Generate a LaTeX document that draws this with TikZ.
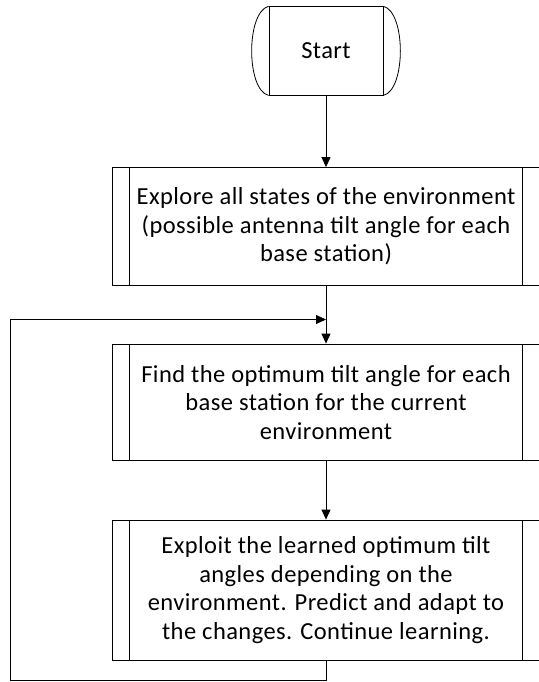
\documentclass[tikz,border=0pt]{standalone}
\usepackage{fontspec}
\setmainfont{Carlito}[LetterSpace=1.8]
\usetikzlibrary{arrows.meta}
\tikzset{
  flow/.style={draw=black, line width=0.8pt},
  arr/.style={flow, -{Triangle[length=10pt,width=9pt]}},
  procbox/.style={draw=black, line width=0.8pt, rectangle, minimum width=428pt,
    inner sep=0pt, align=center, font=\fontsize{24.5}{28.5}\selectfont,
    path picture={
      \draw[line width=0.8pt] ([xshift=17.5pt]path picture bounding box.north west) -- ([xshift=17.5pt]path picture bounding box.south west);
      \draw[line width=0.8pt] ([xshift=-17.5pt]path picture bounding box.north east) -- ([xshift=-17.5pt]path picture bounding box.south east);
    }},
  startbox/.style={draw=black, line width=0.8pt, rectangle, minimum width=114pt,
    minimum height=88.3pt, inner sep=0pt, font=\fontsize{24.5}{28.5}\selectfont}
}
\begin{document}
\begin{tikzpicture}[x=1pt,y=-1pt]
  \useasboundingbox (0,0) rectangle (538,682);

  % terminator
  \node[startbox] (start) at (326,50.85) {Start};
  \draw[flow] (start.north west) .. controls (246,12) and (246,90) .. (start.south west);
  \draw[flow] (start.north east) .. controls (406,12) and (406,90) .. (start.south east);

  % process steps
  \node[procbox, minimum height=118.2pt] (explore) at (326,226.6)
    {Explore all states of the environment\\(possible antenna tilt angle for each\\base station)};
  \node[procbox, minimum height=116.7pt] (find) at (326,402.35)
    {Find the optimum tilt angle for each\\base station for the current\\environment};
  \node[procbox, minimum height=140pt] (exploit) at (326,590)
    {Exploit the learned optimum tilt\\angles depending on the\\environment. Predict and adapt to\\the changes. Continue learning.};

  % connectors
  \coordinate (join) at (326,319.5);
  \coordinate (loopA) at (326,680.7);
  \coordinate (loopB) at (10,680.7);
  \coordinate (loopC) at (10,319.5);

  \draw[arr] (start.south) -- (explore.north);
  \draw[arr] (explore.south) -- (find.north);
  \draw[arr] (find.south) -- (exploit.north);
  \draw[arr] (exploit.south) -- (loopA) -- (loopB) -- (loopC) -- (join);
\end{tikzpicture}
\end{document}
